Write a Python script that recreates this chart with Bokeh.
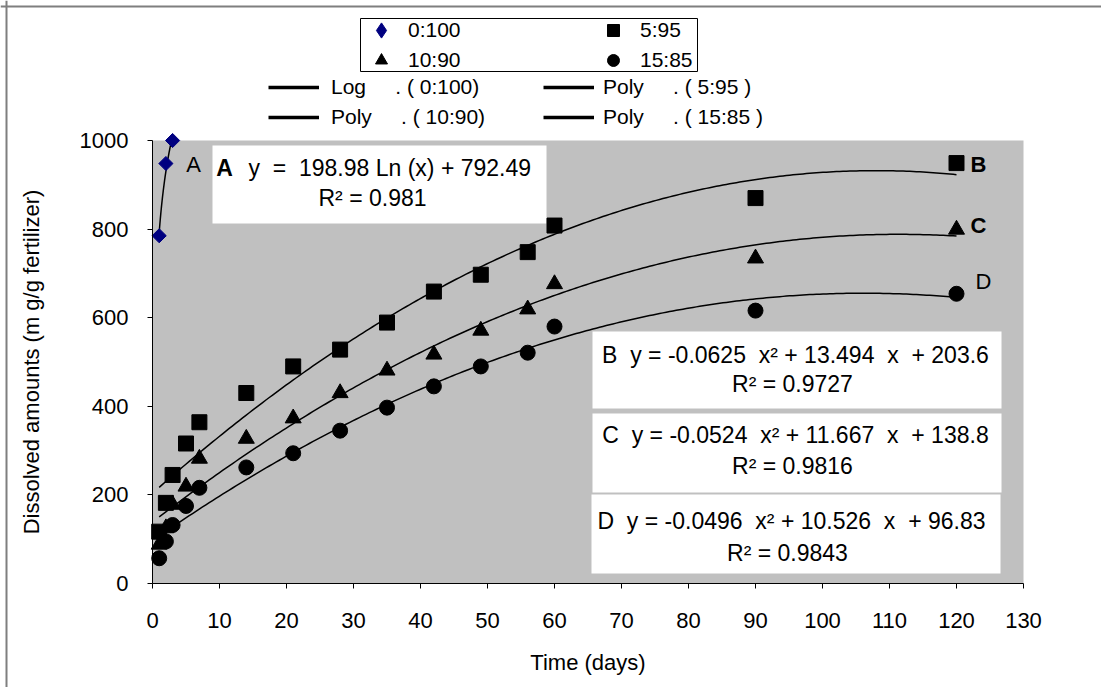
import numpy as np
from bokeh.plotting import figure
from bokeh.models import (Range1d, FixedTicker, Label, Legend, LegendItem,
                          BoxAnnotation, Span)
from bokeh.embed import file_html
from bokeh.resources import INLINE

# ---------------- data ----------------
days_A = [1, 2, 3]
ratio_0_100 = [785, 948, 1000]

days = [1, 2, 3, 5, 7, 14, 21, 28, 35, 42, 49, 56, 60, 90, 120]
ratio_5_95 = [117, 182, 245, 316, 364, 430, 490, 528, 589, 659, 697, 748, 808, 870, 949]
ratio_10_90 = [88, 125, 178, 219, 282, 327, 373, 430, 481, 517, 571, 619, 676, 734, 799]
ratio_15_85 = [57, 95, 132, 175, 216, 262, 294, 345, 397, 445, 490, 521, 580, 616, 654]

# trendline coefficients as printed on the chart
log_A = [198.98, 792.49]            # y = a*ln(x) + b
poly_B = [-0.0625, 13.494, 203.6]   # y = a*x^2 + b*x + c
poly_C = [-0.0524, 11.667, 138.8]
poly_D = [-0.0496, 10.526, 96.83]
r2_values = ["0.981", "0.9727", "0.9816", "0.9843"]

x_ticks = list(range(0, 131, 10))
y_ticks = [0, 200, 400, 600, 800, 1000]
X_MAX, Y_MAX = 130, 1000

FONT = "Liberation Sans"

# where the plot area (0..130 x 0..1000) sits in the 1101x687 canvas
FL, FR, FT, FB = 152, 1023, 140, 583
W, H = 1101, 687
SX = (FR - FL) / X_MAX
SY = (FB - FT) / Y_MAX


def dx(px):
    return (px - FL) / SX


def dy(py):
    return (FB - py) / SY


# the frame covers the whole canvas so the legend can sit above the plot area
p = figure(width=W, height=H,
           x_range=Range1d(dx(0), dx(W)), y_range=Range1d(dy(H), dy(0)),
           output_backend="svg", toolbar_location=None,
           min_border_left=0, min_border_right=0,
           min_border_top=0, min_border_bottom=0)
p.background_fill_color = "white"
p.border_fill_color = "white"
p.outline_line_color = None
p.grid.visible = False

for ax in (p.xaxis[0], p.yaxis[0]):
    ax.fixed_location = 0
    ax.axis_line_color = "black"
    ax.major_tick_line_color = "black"
    ax.major_tick_in = 0
    ax.major_tick_out = 5
    ax.minor_tick_line_color = None
    ax.major_label_text_font = FONT
    ax.major_label_text_font_size = "22px"
    ax.major_label_text_color = "black"
    ax.axis_label_text_font = FONT
    ax.axis_label_text_font_size = "22px"
    ax.axis_label_text_font_style = "normal"
    ax.axis_label_text_color = "black"

p.xaxis.bounds = (0, X_MAX)
p.yaxis.bounds = (0, Y_MAX)
p.xaxis.ticker = FixedTicker(ticks=x_ticks)
p.yaxis.ticker = FixedTicker(ticks=y_ticks)
p.xaxis.axis_label = "Time (days)"
p.yaxis.axis_label = "Dissolved amounts (m g/g fertilizer)"
p.xaxis.major_label_standoff = 24
p.xaxis.axis_label_standoff = 19
p.yaxis.major_label_standoff = 19
p.yaxis.axis_label_standoff = 33

# grey plot area
p.add_layout(BoxAnnotation(left=0, right=X_MAX, bottom=0, top=Y_MAX,
                           fill_color="#C0C0C0", fill_alpha=1,
                           line_color=None, level="underlay"))
# outer chart border (only left and top edges are visible in the reference)
p.add_layout(Span(location=dx(6), dimension="height", line_color="#7f7f7f", line_width=2))
p.add_layout(Span(location=dy(6), dimension="width", line_color="#7f7f7f", line_width=2))
# legend box
p.add_layout(BoxAnnotation(left=dx(360), right=dx(697), top=dy(18), bottom=dy(71),
                           fill_color="white", fill_alpha=1,
                           line_color="black", line_alpha=1, line_width=1))

# equation boxes
p.quad(left=[dx(212), dx(592), dx(592), dx(591)],
       right=[dx(546), dx(1001), dx(1001), dx(1000)],
       top=[dy(145), dy(331), dy(413), dy(494)],
       bottom=[dy(223), dy(408), dy(492), dy(573)],
       fill_color="white", line_color=None)

# trendlines
xa = np.linspace(min(days_A), max(days_A), 60)
p.line(xa, log_A[0] * np.log(xa) + log_A[1], line_color="black", line_width=1.5)
xp = np.linspace(min(days), max(days), 240)
for coefs in (poly_B, poly_C, poly_D):
    p.line(xp, np.polyval(coefs, xp), line_color="black", line_width=1.5)

# data points
p.scatter(days_A, ratio_0_100, marker="square", angle=np.pi / 4, size=10,
          fill_color="#000080", line_color="#000080")
rB = p.scatter(days, ratio_5_95, marker="square", size=15, color="black")
rC = p.scatter(days, ratio_10_90, marker="triangle", size=16, color="black")
rD = p.scatter(days, ratio_15_85, marker="circle", size=15, color="black")

# legend-only samples (no visible data)
NAN = [np.nan]
mA = p.scatter(NAN, NAN, marker="diamond", fill_color="#000080", line_color="#000080")
lA = p.line(NAN, NAN, line_color="black", line_width=3.5)
lB = p.line(NAN, NAN, line_color="black", line_width=3.5)
lC = p.line(NAN, NAN, line_color="black", line_width=3.5)
lD = p.line(NAN, NAN, line_color="black", line_width=3.5)


def make_legend(items, left, top, gw, gh, standoff):
    height = len(items) * gh
    lg = Legend(items=items, location=(left, H - (top + height)),
                glyph_width=gw, glyph_height=gh, label_height=gh,
                label_standoff=standoff, spacing=0, padding=0, margin=0,
                label_text_font=FONT, label_text_font_size="21px",
                label_text_color="black",
                background_fill_alpha=0, border_line_color=None)
    p.add_layout(lg, "center")


NB = "\u00a0"
make_legend([LegendItem(label="0:100", renderers=[mA])], 362, 11, 38, 38, 8)
make_legend([LegendItem(label="10:90", renderers=[rC])], 363, 45, 36, 30, 9)
make_legend([LegendItem(label="5:95", renderers=[rB]),
             LegendItem(label="15:85", renderers=[rD])], 595, 15, 36, 30, 9)
make_legend([LegendItem(label="Log" + NB * 5 + "." + NB + "(" + NB + "0:100)", renderers=[lA]),
             LegendItem(label="Poly" + NB * 5 + "." + NB + "(" + NB + "10:90)", renderers=[lC])],
            268, 72, 51, 30, 12)
make_legend([LegendItem(label="Poly" + NB * 5 + "." + NB + "(" + NB + "5:95" + NB + ")", renderers=[lB]),
             LegendItem(label="Poly" + NB * 5 + "." + NB + "(" + NB + "15:85" + NB + ")", renderers=[lD])],
            543, 72, 51, 30, 9)


def add_text(px, py, text, align="center", bold=False, size="23px"):
    p.add_layout(Label(x=dx(px), y=dy(py), text=text, text_align=align,
                       text_baseline="middle", text_font=FONT,
                       text_font_size=size, text_color="black",
                       text_font_style="bold" if bold else "normal"))


S2 = NB * 2
# equation texts
add_text(224, 167, "A", bold=True)
add_text(248, 167, "y" + S2 + "=" + S2 + "198.98" + NB + "Ln" + NB + "(x)" + NB + "+" + NB + "792.49", align="left")
add_text(372, 197, "R² = " + r2_values[0])
add_text(795, 354, "B" + S2 + "y" + NB + "=" + NB + "-0.0625" + S2 + "x²" + NB + "+" + NB + "13.494" + S2 + "x" + S2 + "+" + NB + "203.6")
add_text(792, 383, "R² = " + r2_values[1])
add_text(795, 434, "C" + S2 + "y" + NB + "=" + NB + "-0.0524" + S2 + "x²" + NB + "+" + NB + "11.667" + S2 + "x" + S2 + "+" + NB + "138.8")
add_text(792, 465, "R² = " + r2_values[2])
add_text(791, 520, "D" + S2 + "y" + NB + "=" + NB + "-0.0496" + S2 + "x²" + NB + "+" + NB + "10.526" + S2 + "x" + S2 + "+" + NB + "96.83")
add_text(787, 552, "R² = " + r2_values[3])

# series letters
add_text(193, 164, "A", size="22px")
add_text(978, 164, "B", bold=True, size="22px")
add_text(978, 225, "C", bold=True, size="22px")
add_text(983, 281, "D", size="22px")

open("out.html", "w").write(file_html(p, INLINE))
